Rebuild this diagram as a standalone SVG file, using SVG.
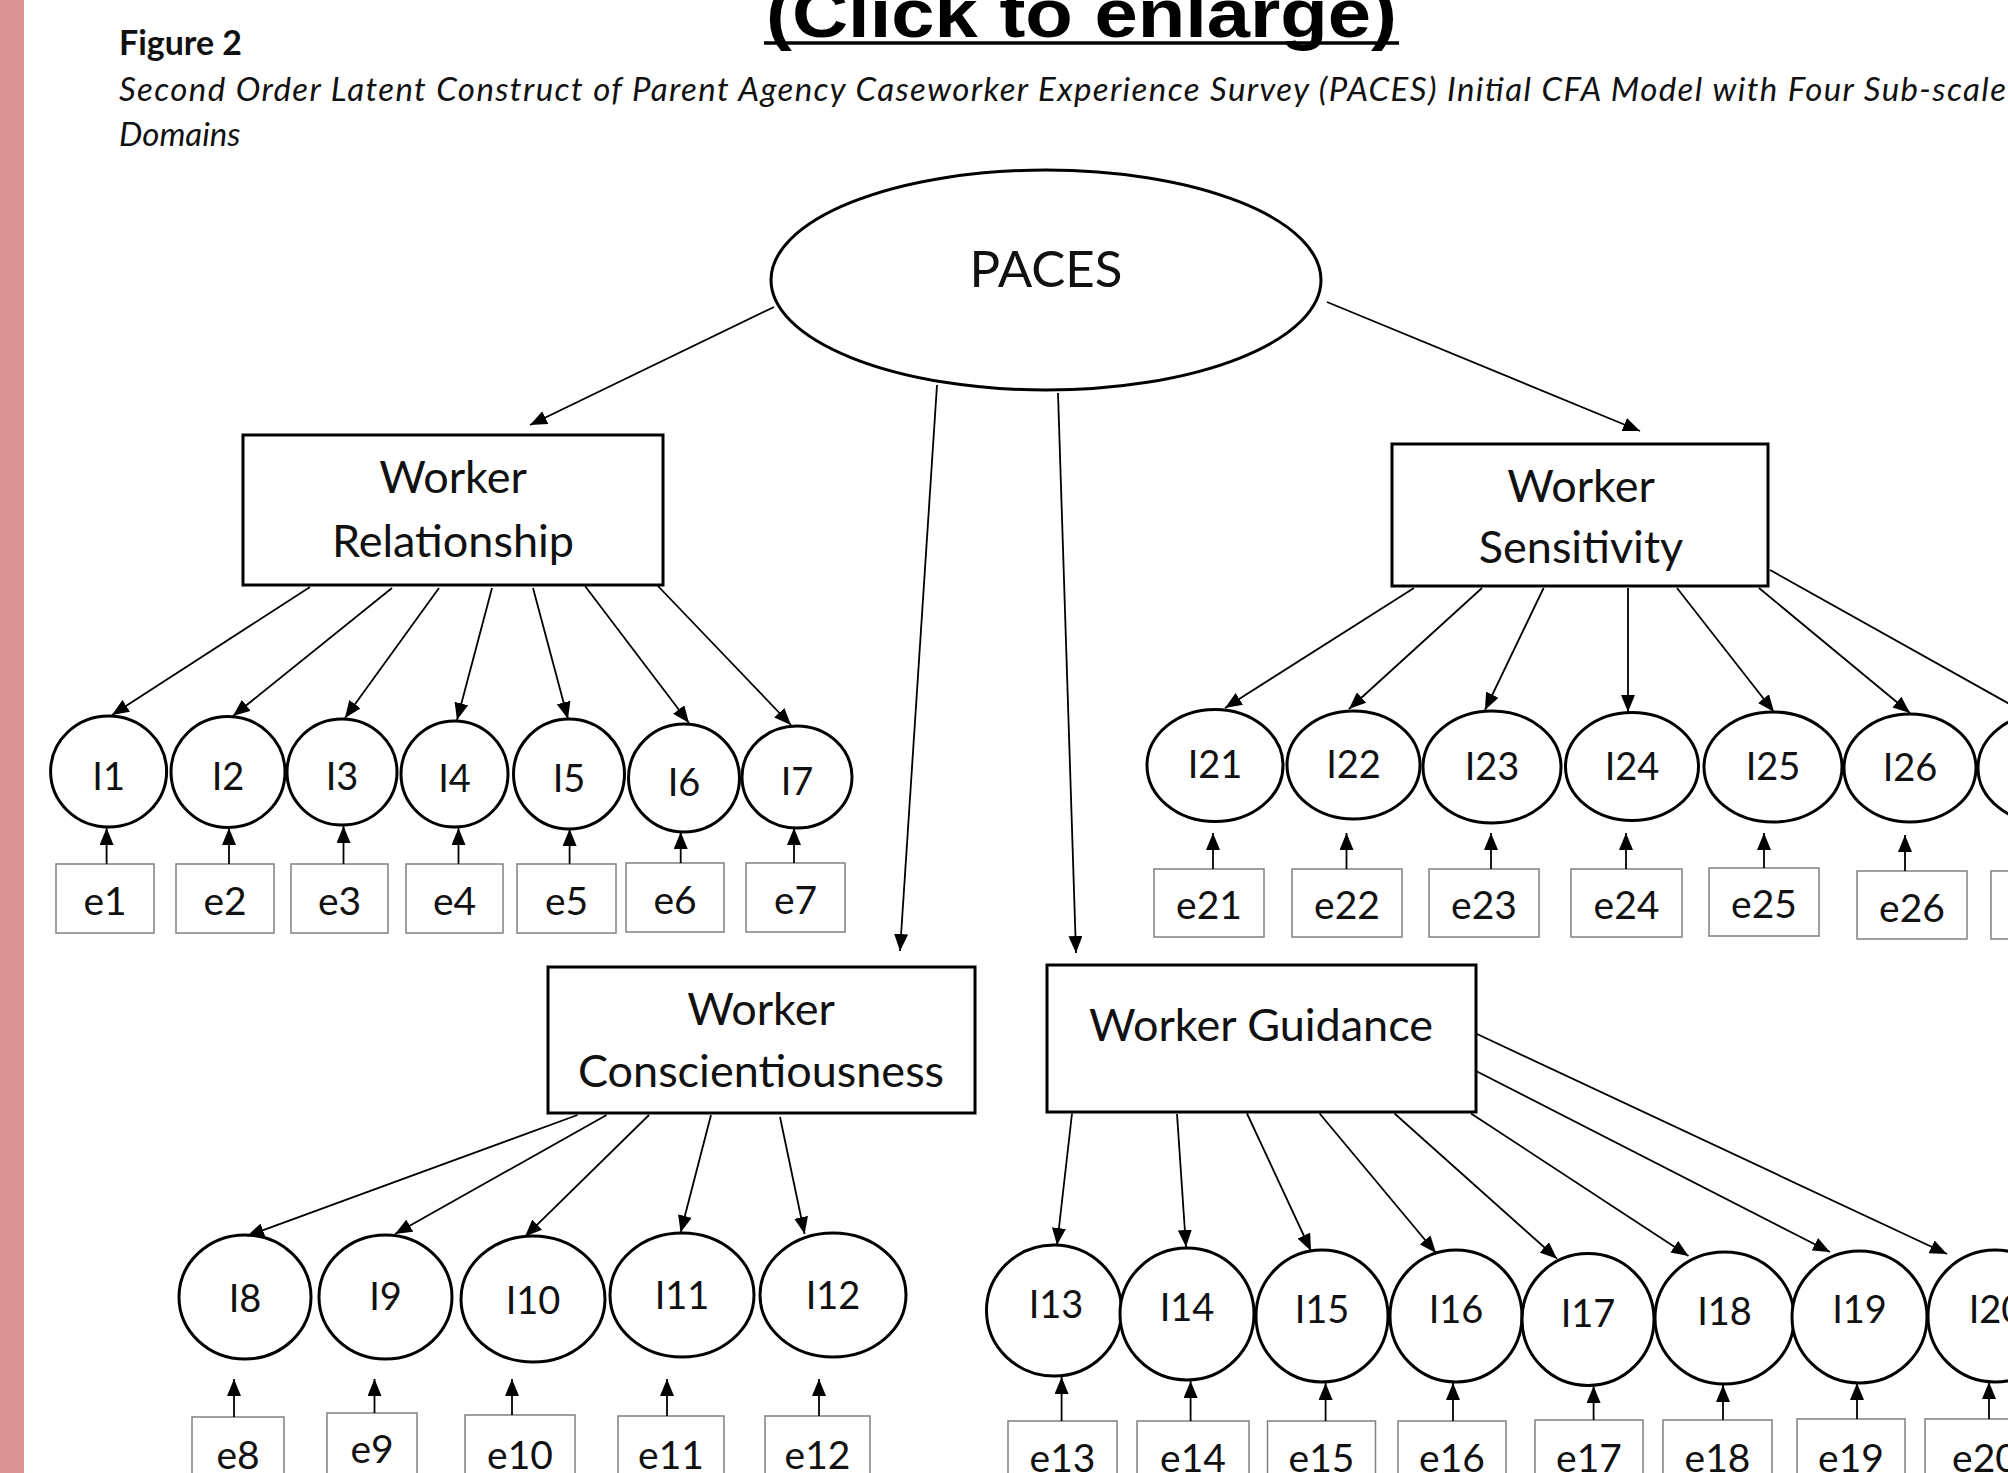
<svg xmlns="http://www.w3.org/2000/svg" width="2008" height="1473" viewBox="0 0 2008 1473">
<style>
.t{font-family:Lato,"Open Sans",sans-serif;fill:#111;text-anchor:middle}
.s36{font-size:38px}
.se{font-size:39px}
.s42{font-size:45px}
.lat{fill:#fff;stroke:#000;stroke-width:3}
.itm{fill:#fff;stroke:#000;stroke-width:3}
.err{fill:#fff;stroke:#808080;stroke-width:1.5}
.conn line{stroke:#000;stroke-width:1.8;marker-end:url(#ah)}
.hd{font-family:Lato,"Open Sans",sans-serif;fill:#111}
</style>
<defs>
<marker id="ah" markerUnits="userSpaceOnUse" markerWidth="17" markerHeight="14" refX="17" refY="7" orient="auto"><path d="M0,0 L17,7 L0,14 z" fill="#000"/></marker>
</defs>
<rect x="0" y="0" width="2008" height="1473" fill="#fff"/>
<rect x="0" y="0" width="24" height="1473" fill="#DA9594"/>
<g id="header">
<text x="766" y="37" font-family="'Liberation Sans',Arial,sans-serif" font-weight="bold" font-size="68" fill="#000" textLength="631" lengthAdjust="spacingAndGlyphs">(Click to enlarge)</text>
<line x1="764" y1="43" x2="1399" y2="43" stroke="#000" stroke-width="3.5"/>
<text class="hd" x="119" y="55" font-weight="bold" font-size="35" textLength="123" lengthAdjust="spacingAndGlyphs">Figure 2</text>
<text class="hd" x="119" y="101" font-style="italic" font-size="33" textLength="1887" lengthAdjust="spacing">Second Order Latent Construct of Parent Agency Caseworker Experience Survey (PACES) Initial CFA Model with Four Sub-scale</text>
<text class="hd" x="119" y="146" font-style="italic" font-size="33">Domains</text>
</g>
<g id="PACES"><ellipse class="lat" cx="1046" cy="280" rx="275" ry="110" stroke-width="3.5"/><text class="t" x="1046" y="287" font-size="51">PACES</text></g>
<g id="WorkerRelationship"><rect class="lat" x="243" y="435" width="420" height="150"/><text class="t s42" x="453" y="493">Worker</text><text class="t s42" x="453" y="557">Relationship</text></g>
<g id="WorkerSensitivity"><rect class="lat" x="1392" y="444" width="376" height="142"/><text class="t s42" x="1581" y="502">Worker</text><text class="t s42" x="1581" y="563">Sensitivity</text></g>
<g id="WorkerConscientiousness"><rect class="lat" x="548" y="967" width="427" height="146"/><text class="t s42" x="761" y="1025">Worker</text><text class="t s42" x="761" y="1087">Conscientiousness</text></g>
<g id="WorkerGuidance"><rect class="lat" x="1047" y="965" width="429" height="147"/><text class="t s42" x="1261" y="1041">Worker Guidance</text></g>
<g id="I1"><ellipse class="itm" cx="108.6" cy="771.5" rx="58" ry="55.5"/><text class="t s36" x="108.6" y="790">I1</text></g>
<g id="I2"><ellipse class="itm" cx="228" cy="772" rx="57" ry="55.5"/><text class="t s36" x="228" y="790">I2</text></g>
<g id="I3"><ellipse class="itm" cx="342" cy="772" rx="55" ry="53"/><text class="t s36" x="342" y="790">I3</text></g>
<g id="I4"><ellipse class="itm" cx="454.5" cy="774" rx="53.5" ry="53"/><text class="t s36" x="454.5" y="792">I4</text></g>
<g id="I5"><ellipse class="itm" cx="569" cy="774" rx="55.5" ry="55"/><text class="t s36" x="569" y="792">I5</text></g>
<g id="I6"><ellipse class="itm" cx="684" cy="778" rx="55.5" ry="54"/><text class="t s36" x="684" y="796">I6</text></g>
<g id="I7"><ellipse class="itm" cx="797" cy="777" rx="55" ry="51"/><text class="t s36" x="797" y="795">I7</text></g>
<g id="e1"><rect class="err" x="56" y="864" width="98" height="69"/><text class="t se" x="105" y="915">e1</text></g>
<g id="e2"><rect class="err" x="176" y="864" width="98" height="69"/><text class="t se" x="225" y="915">e2</text></g>
<g id="e3"><rect class="err" x="291" y="864" width="97" height="69"/><text class="t se" x="339.5" y="915">e3</text></g>
<g id="e4"><rect class="err" x="406" y="864" width="97" height="69"/><text class="t se" x="454.5" y="915">e4</text></g>
<g id="e5"><rect class="err" x="517" y="864" width="99" height="69"/><text class="t se" x="566.5" y="915">e5</text></g>
<g id="e6"><rect class="err" x="626" y="863" width="98" height="69"/><text class="t se" x="675" y="914">e6</text></g>
<g id="e7"><rect class="err" x="746" y="863" width="99" height="69"/><text class="t se" x="795.5" y="914">e7</text></g>
<g id="I21"><ellipse class="itm" cx="1215" cy="765.5" rx="68" ry="56"/><text class="t s36" x="1215" y="778">I21</text></g>
<g id="I22"><ellipse class="itm" cx="1353.5" cy="765" rx="66.5" ry="54"/><text class="t s36" x="1353.5" y="778">I22</text></g>
<g id="I23"><ellipse class="itm" cx="1492" cy="767" rx="69" ry="56"/><text class="t s36" x="1492" y="780">I23</text></g>
<g id="I24"><ellipse class="itm" cx="1632" cy="766.5" rx="66.5" ry="54"/><text class="t s36" x="1632" y="780">I24</text></g>
<g id="I25"><ellipse class="itm" cx="1773" cy="767" rx="69" ry="55"/><text class="t s36" x="1773" y="780">I25</text></g>
<g id="I26"><ellipse class="itm" cx="1910" cy="768" rx="66" ry="54"/><text class="t s36" x="1910" y="781">I26</text></g>
<g id="I27"><ellipse class="itm" cx="2046" cy="768" rx="68" ry="55"/></g>
<g id="e21"><rect class="err" x="1154" y="869" width="110" height="68"/><text class="t se" x="1209" y="919">e21</text></g>
<g id="e22"><rect class="err" x="1292" y="869" width="110" height="68"/><text class="t se" x="1347" y="919">e22</text></g>
<g id="e23"><rect class="err" x="1429" y="869" width="110" height="68"/><text class="t se" x="1484" y="919">e23</text></g>
<g id="e24"><rect class="err" x="1571" y="869" width="111" height="68"/><text class="t se" x="1626.5" y="919">e24</text></g>
<g id="e25"><rect class="err" x="1709" y="868" width="110" height="68"/><text class="t se" x="1764" y="918">e25</text></g>
<g id="e26"><rect class="err" x="1857" y="871" width="110" height="68"/><text class="t se" x="1912" y="922">e26</text></g>
<g id="e27"><rect class="err" x="1991" y="871" width="110" height="68"/></g>
<g id="I8"><ellipse class="itm" cx="245" cy="1297" rx="66" ry="62"/><text class="t s36" x="245" y="1312">I8</text></g>
<g id="I9"><ellipse class="itm" cx="385.5" cy="1297" rx="66.5" ry="62"/><text class="t s36" x="385.5" y="1310">I9</text></g>
<g id="I10"><ellipse class="itm" cx="533" cy="1299" rx="72" ry="63"/><text class="t s36" x="533" y="1314">I10</text></g>
<g id="I11"><ellipse class="itm" cx="682" cy="1295" rx="72" ry="62"/><text class="t s36" x="682" y="1309">I11</text></g>
<g id="I12"><ellipse class="itm" cx="833" cy="1295" rx="73" ry="62"/><text class="t s36" x="833" y="1309">I12</text></g>
<g id="e8"><rect class="err" x="192" y="1417" width="92" height="80"/><text class="t se" x="238" y="1469">e8</text></g>
<g id="e9"><rect class="err" x="327" y="1413" width="90" height="80"/><text class="t se" x="372" y="1463">e9</text></g>
<g id="e10"><rect class="err" x="465" y="1415" width="110" height="80"/><text class="t se" x="520" y="1469">e10</text></g>
<g id="e11"><rect class="err" x="618" y="1416" width="106" height="80"/><text class="t se" x="671" y="1469">e11</text></g>
<g id="e12"><rect class="err" x="765" y="1416" width="105" height="80"/><text class="t se" x="817.5" y="1469">e12</text></g>
<g id="I13"><ellipse class="itm" cx="1054" cy="1310.5" rx="67.5" ry="65.5"/><text class="t s36" x="1056" y="1318">I13</text></g>
<g id="I14"><ellipse class="itm" cx="1187" cy="1314" rx="67" ry="66"/><text class="t s36" x="1187" y="1321">I14</text></g>
<g id="I15"><ellipse class="itm" cx="1322" cy="1316" rx="66" ry="66"/><text class="t s36" x="1322" y="1323">I15</text></g>
<g id="I16"><ellipse class="itm" cx="1456" cy="1316" rx="66" ry="66"/><text class="t s36" x="1456" y="1323">I16</text></g>
<g id="I17"><ellipse class="itm" cx="1588" cy="1319.5" rx="66" ry="66"/><text class="t s36" x="1588" y="1327">I17</text></g>
<g id="I18"><ellipse class="itm" cx="1724.5" cy="1318" rx="69.5" ry="66"/><text class="t s36" x="1724.5" y="1325">I18</text></g>
<g id="I19"><ellipse class="itm" cx="1859.5" cy="1317" rx="67.5" ry="66"/><text class="t s36" x="1859.5" y="1323">I19</text></g>
<g id="I20"><ellipse class="itm" cx="1995" cy="1316" rx="67" ry="66"/><text class="t s36" x="1996" y="1323">I20</text></g>
<g id="e13"><rect class="err" x="1008" y="1421" width="109" height="80"/><text class="t se" x="1062.5" y="1472">e13</text></g>
<g id="e14"><rect class="err" x="1137" y="1421" width="112" height="80"/><text class="t se" x="1193" y="1472">e14</text></g>
<g id="e15"><rect class="err" x="1267.5" y="1421" width="108" height="80"/><text class="t se" x="1321.5" y="1472">e15</text></g>
<g id="e16"><rect class="err" x="1398" y="1421" width="108" height="80"/><text class="t se" x="1452" y="1472">e16</text></g>
<g id="e17"><rect class="err" x="1535" y="1420" width="108" height="80"/><text class="t se" x="1589" y="1472">e17</text></g>
<g id="e18"><rect class="err" x="1663" y="1420" width="109" height="80"/><text class="t se" x="1717.5" y="1472">e18</text></g>
<g id="e19"><rect class="err" x="1797" y="1419" width="108" height="80"/><text class="t se" x="1851" y="1472">e19</text></g>
<g id="e20"><rect class="err" x="1925" y="1419" width="120" height="80"/><text class="t se" x="1985" y="1472">e20</text></g>
<g id="connectors" class="conn">
<line x1="774" y1="307" x2="530" y2="425"/>
<line x1="1327" y1="302" x2="1640" y2="431"/>
<line x1="937" y1="385" x2="900" y2="951"/>
<line x1="1058" y1="393" x2="1076" y2="953"/>
<line x1="310" y1="587" x2="112" y2="715"/>
<line x1="392" y1="588" x2="233" y2="716"/>
<line x1="439" y1="588" x2="345" y2="718"/>
<line x1="492" y1="588" x2="457" y2="720"/>
<line x1="533" y1="588" x2="568" y2="719"/>
<line x1="585" y1="586" x2="689" y2="723"/>
<line x1="657" y1="585" x2="791" y2="725"/>
<line x1="106.6" y1="864" x2="106.6" y2="828"/>
<line x1="229" y1="864" x2="229" y2="828"/>
<line x1="343.5" y1="864" x2="343.5" y2="826"/>
<line x1="458.5" y1="864" x2="458.5" y2="828"/>
<line x1="569.6" y1="864" x2="569.6" y2="829"/>
<line x1="680.7" y1="863" x2="680.7" y2="832"/>
<line x1="794" y1="863" x2="794" y2="828"/>
<line x1="1414" y1="588" x2="1225" y2="708"/>
<line x1="1482" y1="588" x2="1349" y2="709"/>
<line x1="1543.6" y1="588" x2="1485" y2="710"/>
<line x1="1628" y1="588" x2="1628" y2="712"/>
<line x1="1677" y1="588" x2="1774" y2="712"/>
<line x1="1759" y1="588" x2="1910" y2="713"/>
<line x1="1770" y1="570" x2="2040" y2="721"/>
<line x1="1213" y1="869" x2="1213" y2="833"/>
<line x1="1346.5" y1="869" x2="1346.5" y2="833"/>
<line x1="1491" y1="869" x2="1491" y2="833"/>
<line x1="1626" y1="869" x2="1626" y2="833"/>
<line x1="1764" y1="868" x2="1764" y2="833"/>
<line x1="1905" y1="871" x2="1905" y2="835"/>
<line x1="577.5" y1="1115" x2="247" y2="1236"/>
<line x1="606.6" y1="1115" x2="395" y2="1234"/>
<line x1="649" y1="1115" x2="525" y2="1236.6"/>
<line x1="711" y1="1115" x2="680.6" y2="1232.5"/>
<line x1="780" y1="1117" x2="804.6" y2="1234"/>
<line x1="234" y1="1417" x2="234" y2="1379"/>
<line x1="374.5" y1="1413" x2="374.5" y2="1379"/>
<line x1="512" y1="1415" x2="512" y2="1379"/>
<line x1="667" y1="1416" x2="667" y2="1379"/>
<line x1="819" y1="1416" x2="819" y2="1379"/>
<line x1="1072" y1="1113.5" x2="1057" y2="1245"/>
<line x1="1177" y1="1114" x2="1186" y2="1247"/>
<line x1="1247" y1="1113.5" x2="1311" y2="1251"/>
<line x1="1319.6" y1="1113.5" x2="1436" y2="1253"/>
<line x1="1394.5" y1="1113.5" x2="1557" y2="1258.7"/>
<line x1="1471" y1="1113.5" x2="1688.5" y2="1256"/>
<line x1="1476" y1="1071" x2="1830" y2="1252"/>
<line x1="1476" y1="1033.5" x2="1947" y2="1254"/>
<line x1="1061.6" y1="1421" x2="1061.6" y2="1377"/>
<line x1="1190.6" y1="1421" x2="1190.6" y2="1381"/>
<line x1="1325.6" y1="1421" x2="1325.6" y2="1383"/>
<line x1="1453" y1="1421" x2="1453" y2="1383"/>
<line x1="1593.6" y1="1420" x2="1593.6" y2="1386"/>
<line x1="1723" y1="1420" x2="1723" y2="1385"/>
<line x1="1857" y1="1419" x2="1857" y2="1383"/>
<line x1="1989" y1="1419" x2="1989" y2="1382"/>
</g>
</svg>
